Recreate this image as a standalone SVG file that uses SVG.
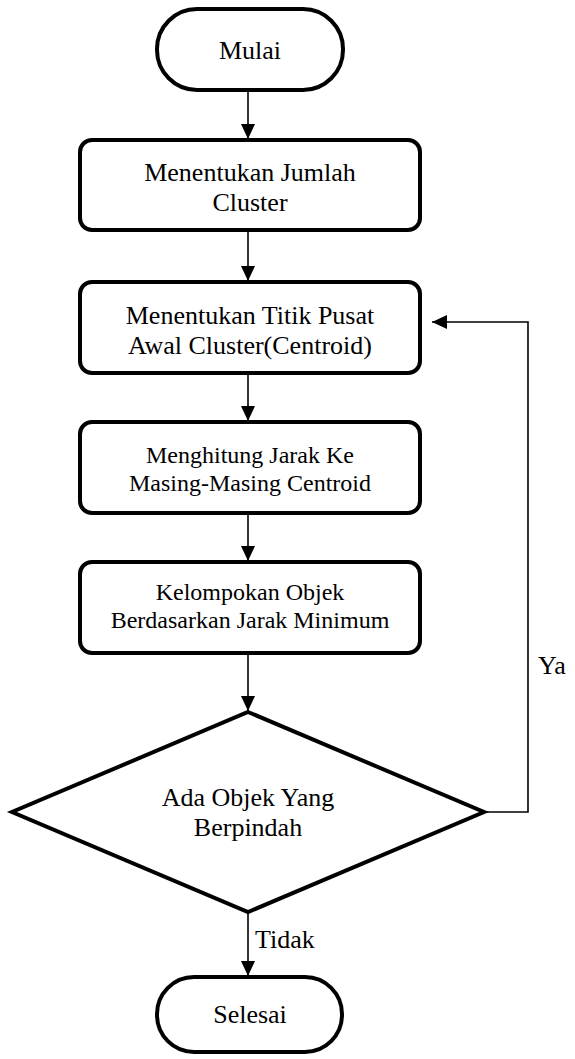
<svg xmlns="http://www.w3.org/2000/svg" width="575" height="1059" viewBox="0 0 575 1059">
<style>
.n{fill:#fff;stroke:#000;stroke-width:4;stroke-linejoin:round}
.t{font-family:"Liberation Serif","Times New Roman",serif;font-size:26px;fill:#000;text-anchor:middle}
.s{font-size:24px}
.c{fill:none;stroke:#000;stroke-width:1.6}
</style>
<defs>
<marker id="a" markerWidth="16" markerHeight="14" refX="15" refY="7" orient="auto" markerUnits="userSpaceOnUse">
<path d="M0,0 L15,7 L0,14 Z" fill="#000"/>
</marker>
</defs>
<rect width="575" height="1059" fill="#fff"/>
<g id="connectors">
<line class="c" x1="248" y1="90" x2="248" y2="139" marker-end="url(#a)"/>
<line class="c" x1="248" y1="230" x2="248" y2="281" marker-end="url(#a)"/>
<line class="c" x1="248" y1="373" x2="248" y2="421" marker-end="url(#a)"/>
<line class="c" x1="248" y1="513" x2="248" y2="561" marker-end="url(#a)"/>
<line class="c" x1="248" y1="653" x2="248" y2="711" marker-end="url(#a)"/>
<line class="c" x1="248" y1="912" x2="248" y2="976" marker-end="url(#a)"/>
<polyline class="c" points="484,812 528,812 528,322 432,322" marker-end="url(#a)"/>
<text class="t" x="538" y="674" style="text-anchor:start">Ya</text>
<text class="t" x="255" y="948" style="text-anchor:start">Tidak</text>
</g>
<g id="mulai">
<rect class="n" x="157" y="9" width="186" height="81" rx="40" ry="40"/>
<text class="t" x="250" y="59">Mulai</text>
</g>
<g id="jumlah">
<rect class="n" x="80" y="140" width="340" height="90" rx="12" ry="12"/>
<text class="t" x="250" y="181">Menentukan Jumlah</text>
<text class="t" x="250" y="211">Cluster</text>
</g>
<g id="centroid">
<rect class="n" x="80" y="282" width="340" height="91" rx="12" ry="12"/>
<text class="t" x="250" y="324">Menentukan Titik Pusat</text>
<text class="t" x="250" y="354">Awal Cluster(Centroid)</text>
</g>
<g id="jarak">
<rect class="n" x="80" y="422" width="340" height="91" rx="12" ry="12"/>
<text class="t s" x="250" y="463">Menghitung Jarak Ke</text>
<text class="t s" x="250" y="491">Masing-Masing Centroid</text>
</g>
<g id="kelompok">
<rect class="n" x="80" y="562" width="340" height="91" rx="12" ry="12"/>
<text class="t s" x="250" y="600">Kelompokan Objek</text>
<text class="t s" x="250" y="628">Berdasarkan Jarak Minimum</text>
</g>
<g id="keputusan">
<polygon class="n" points="248,712 484,812 248,912 12,812" style="stroke-linejoin:miter"/>
<text class="t" x="248" y="806">Ada Objek Yang</text>
<text class="t" x="248" y="836">Berpindah</text>
</g>
<g id="selesai">
<rect class="n" x="157" y="977" width="185" height="75" rx="37" ry="37"/>
<text class="t" x="250" y="1023">Selesai</text>
</g>
</svg>
